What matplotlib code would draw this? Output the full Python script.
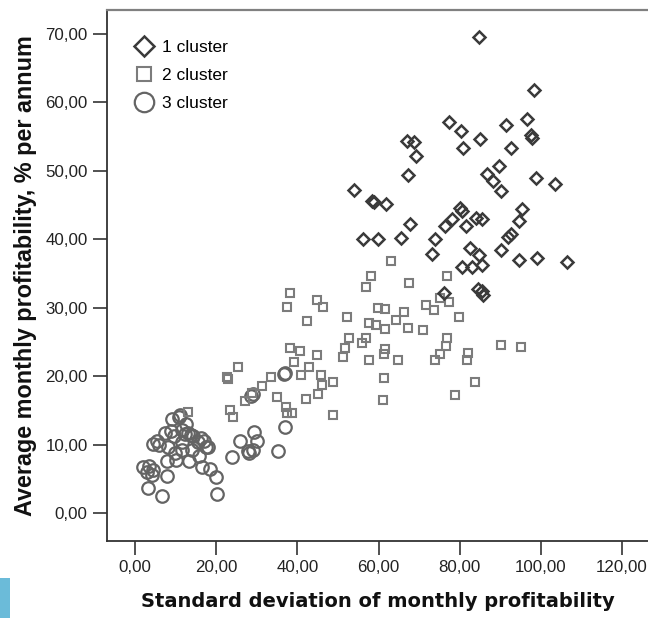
import matplotlib
matplotlib.use("Agg")
import matplotlib.pyplot as plt
from matplotlib.lines import Line2D
from matplotlib.patches import Rectangle
from matplotlib.ticker import FuncFormatter

# ---- data ----
c1_x = [84.8, 98.3, 77.3, 80.3, 91.3, 96.7, 97.6, 97.8, 67.1, 68.7, 69.2, 80.7, 85.1, 92.7,
        89.7, 86.8, 88.1, 90.3, 98.9, 103.5, 67.2, 53.9, 58.4, 59.0, 61.8, 67.7, 56.2, 59.8,
        65.5, 74.0, 73.2, 76.5, 78.1, 80.0, 80.5, 81.5, 84.0, 85.4, 95.4, 94.7, 92.0, 92.6,
        90.3, 82.6, 84.7, 85.6, 83.1, 80.6, 94.7, 99.0, 106.4, 84.4, 85.4, 85.8, 76.2]
c1_y = [69.6, 61.8, 57.1, 55.8, 56.7, 57.6, 55.2, 54.8, 54.3, 54.2, 52.2, 53.3, 54.6, 53.4,
        50.7, 49.6, 48.5, 47.1, 48.9, 48.1, 49.4, 47.2, 45.6, 45.4, 45.2, 42.3, 40.0, 40.1,
        40.2, 40.1, 37.8, 42.0, 42.9, 44.6, 44.1, 42.0, 43.1, 43.0, 44.4, 42.6, 40.3, 40.7,
        38.5, 38.7, 37.7, 36.2, 36.0, 36.0, 37.0, 37.2, 36.7, 32.8, 32.4, 31.9, 32.1]

c2_x = [63.0, 58.1, 56.8, 38.3, 37.4, 44.9, 46.4, 42.4, 52.3, 59.8, 61.7, 57.7, 59.4, 61.6,
        64.3, 52.8, 56.9, 55.9, 51.7, 51.2, 57.7, 61.7, 61.3, 64.9, 61.3, 61.2, 38.1, 40.6,
        44.8, 39.2, 42.8, 40.9, 45.8, 33.4, 46.0, 48.8, 45.1, 42.2, 48.8, 35.1, 37.2, 37.4,
        38.8, 31.2, 27.2, 28.9, 25.5, 22.6, 22.9, 23.3, 24.1, 13.1, 67.6, 66.3, 67.3, 70.9,
        71.7, 73.6, 75.1, 77.4, 79.8, 76.9, 76.6, 75.1, 73.9, 82.1, 81.9, 90.3, 95.0, 83.7,
        78.8, 76.9]
c2_y = [36.8, 34.7, 33.0, 32.2, 30.1, 31.1, 30.1, 28.1, 28.6, 29.9, 29.8, 27.8, 27.5, 26.9,
        28.2, 25.5, 25.5, 24.9, 24.1, 22.8, 22.4, 24.0, 23.3, 22.4, 19.8, 16.5, 24.1, 23.7,
        23.1, 22.0, 21.4, 20.2, 20.2, 19.9, 18.7, 19.2, 17.4, 16.7, 14.3, 16.9, 15.5, 14.6,
        14.6, 18.6, 16.4, 17.5, 21.4, 19.9, 19.6, 15.0, 14.1, 14.7, 33.6, 29.3, 27.0, 26.8,
        30.4, 29.7, 31.4, 30.8, 28.6, 25.5, 24.4, 23.3, 22.4, 23.4, 22.4, 24.6, 24.2, 19.1,
        17.3, 34.7]

c3_x = [9.0, 11.1, 11.7, 7.4, 4.5, 6.0, 8.2, 9.6, 11.5, 13.1, 14.4, 15.6, 17.0, 18.1, 11.7,
        14.0, 15.8, 10.1, 7.8, 13.4, 16.4, 18.5, 20.0, 2.0, 3.5, 4.5, 2.9, 4.1, 7.8, 3.3, 6.6,
        20.1, 25.9, 24.0, 27.9, 29.4, 30.0, 29.0, 28.2, 35.3, 37.0, 36.7, 36.9, 29.0, 28.7,
        10.8, 12.3, 13.7, 9.9, 17.6, 8.8, 5.5, 12.5, 16.2]
c3_y = [13.7, 14.3, 12.2, 11.7, 10.1, 9.9, 9.7, 11.2, 10.4, 11.7, 11.3, 10.4, 10.5, 9.7, 9.2,
        9.2, 8.3, 7.8, 7.6, 7.6, 6.7, 6.4, 5.2, 6.7, 6.9, 6.3, 6.0, 5.6, 5.4, 3.6, 2.5,
        2.8, 10.5, 8.2, 9.0, 11.8, 10.5, 9.2, 8.7, 9.1, 12.5, 20.3, 20.5, 17.4, 17.1,
        14.1, 11.6, 11.4, 8.8, 9.6, 12.0, 10.5, 13.0, 11.0]

labels = ["1 cluster", "2 cluster", "3 cluster"]
x_ticks = [0, 20, 40, 60, 80, 100, 120]
y_ticks = [0, 10, 20, 30, 40, 50, 60, 70]

# ---- figure ----
W, H = 648, 619
fig = plt.figure(figsize=(W / 100, H / 100), dpi=100)
ax = fig.add_axes([107 / W, (H - 541) / H, 1 - 107 / W, 531 / H])

col1, col2, col3 = "#3a3a3a", "#7c7c7c", "#646464"

ax.plot(c3_x, c3_y, ls="none", marker="o", ms=9, mfc="none", mec=col3, mew=1.6)
ax.plot(c2_x, c2_y, ls="none", marker="s", ms=6.0, mfc="none", mec=col2, mew=1.5)
ax.plot(c1_x, c1_y, ls="none", marker="D", ms=6.3, mfc="none", mec=col1, mew=1.8)

ax.set_xlim(-6.9, 126.4)
ax.set_ylim(-4.09, 73.5)

fmt = FuncFormatter(lambda v, p: f"{v:.2f}".replace(".", ","))
ax.set_xticks(x_ticks)
ax.set_yticks(y_ticks)
ax.xaxis.set_major_formatter(fmt)
ax.yaxis.set_major_formatter(fmt)

ax.tick_params(direction="out", length=10, width=1.2, color="#333333",
               labelsize=12.2, labelcolor="#222222", pad=4)
for lab in ax.get_xticklabels() + ax.get_yticklabels():
    lab.set_family("Liberation Sans")

ax.spines["right"].set_visible(False)
for s in ["left", "bottom"]:
    ax.spines[s].set_color("#333333")
    ax.spines[s].set_linewidth(1.3)
ax.spines["top"].set_color("#808080")
ax.spines["top"].set_linewidth(1.6)

ax.set_xlabel("Standard deviation of monthly profitability", family="DejaVu Sans",
              fontweight="bold", fontsize=14, color="#111111", labelpad=12)
ax.set_ylabel("Average monthly profitability, % per annum", family="Liberation Sans",
              fontweight="bold", fontsize=16.8, color="#111111", labelpad=6)

handles = [
    Line2D([], [], ls="none", marker="D", ms=10.5, mfc="none", mec=col1, mew=1.8),
    Line2D([], [], ls="none", marker="s", ms=10, mfc="none", mec=col2, mew=1.5),
    Line2D([], [], ls="none", marker="o", ms=14, mfc="none", mec=col3, mew=1.6),
]
leg = ax.legend(handles, labels, loc="upper left", frameon=False,
                prop={"family": "Liberation Sans", "size": 12.5},
                handlelength=1.0, handletextpad=0.5, labelspacing=0.75,
                bbox_to_anchor=(0.04, 0.957), borderaxespad=0)

fig.patches.append(Rectangle((0, 1 / H), 10 / W, 40 / H, transform=fig.transFigure,
                             facecolor="#6bbbd9", edgecolor="none"))

fig.savefig("out.png", dpi=100)
